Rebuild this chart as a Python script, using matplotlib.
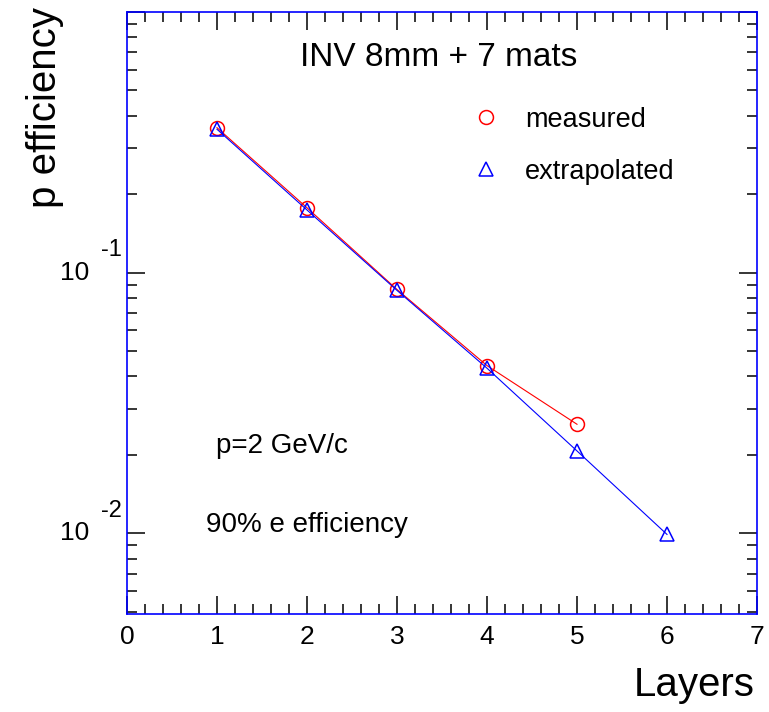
import matplotlib
matplotlib.use("Agg")
import matplotlib.pyplot as plt
from matplotlib.lines import Line2D
from matplotlib.ticker import MultipleLocator, LogLocator, NullFormatter

plt.rcParams['font.family'] = ['Liberation Sans', 'DejaVu Sans']

# pion efficiency vs number of layers
layers_meas = [1, 2, 3, 4, 5]
eff_meas = [0.360, 0.1774, 0.0862, 0.0440, 0.0262]
layers_extr = [1, 2, 3, 4, 5, 6]
eff_extr = [0.355, 0.174, 0.0855, 0.0430, 0.0207, 0.0099]
decade_ticks = [1e-1, 1e-2]
decade_exps = ['-1', '-2']

fig = plt.figure(figsize=(7.69, 7.12), dpi=100)
ax = fig.add_axes([0.1651, 0.1376, 0.8193, 0.8455])

ax.plot(layers_meas, eff_meas, color='red', lw=0.8, marker='o', ms=10,
        mfc='none', mec='red', mew=1.1)
ax.plot(layers_extr, eff_extr, color='blue', lw=0.8, marker='^', ms=10,
        mfc='none', mec='blue', mew=1.1)

ax.set_yscale('log')
ax.set_xlim(0, 7)
ax.set_ylim(0.0049, 1.0)

for side in ['left', 'right', 'top', 'bottom']:
    ax.spines[side].set_color('blue')
    ax.spines[side].set_linewidth(1.2)

ax.xaxis.set_major_locator(MultipleLocator(1))
ax.xaxis.set_minor_locator(MultipleLocator(0.2))
ax.yaxis.set_major_locator(LogLocator(base=10, numticks=10))
ax.yaxis.set_minor_locator(LogLocator(base=10, subs=range(2, 10), numticks=20))
ax.yaxis.set_major_formatter(NullFormatter())
ax.yaxis.set_minor_formatter(NullFormatter())
ax.tick_params(which='both', direction='in', top=True, right=True, color='black', width=1.1)
ax.tick_params(which='major', length=13)
ax.tick_params(which='minor', length=7)
ax.tick_params(axis='x', labelsize=19, pad=8)

# ROOT-style exponent labels
for val, ex in zip(decade_ticks, decade_exps):
    ax.annotate('10', xy=(0, val), xycoords=('axes fraction', 'data'),
                xytext=(-27, 0), textcoords='offset points',
                ha='right', va='center', fontsize=19)
    ax.annotate(ex, xy=(0, val), xycoords=('axes fraction', 'data'),
                xytext=(-19, 16), textcoords='offset points',
                ha='left', va='center', fontsize=17)

fig.text(0.058, 0.99, 'p efficiency', rotation=90, ha='center', va='top', fontsize=29)
fig.text(0.982, 0.038, 'Layers', ha='right', va='center', fontsize=29)

ax.text(0.275, 0.925, 'INV 8mm + 7 mats', transform=ax.transAxes,
        ha='left', va='center', fontsize=24)
ax.text(0.141, 0.279, 'p=2 GeV/c', transform=ax.transAxes,
        ha='left', va='center', fontsize=20)
ax.text(0.125, 0.148, '90% e efficiency', transform=ax.transAxes,
        ha='left', va='center', fontsize=20)

handles = [
    Line2D([], [], ls='none', marker='o', ms=10, mfc='none', mec='red', mew=1.1),
    Line2D([], [], ls='none', marker='^', ms=10, mfc='none', mec='blue', mew=1.1),
]
ax.legend(handles, ['measured', 'extrapolated'], loc='upper left',
          bbox_to_anchor=(0.506, 0.883), frameon=False, fontsize=19.5,
          handlelength=1.2, handletextpad=0.82, labelspacing=0.96)

fig.savefig('out.png', dpi=100)
